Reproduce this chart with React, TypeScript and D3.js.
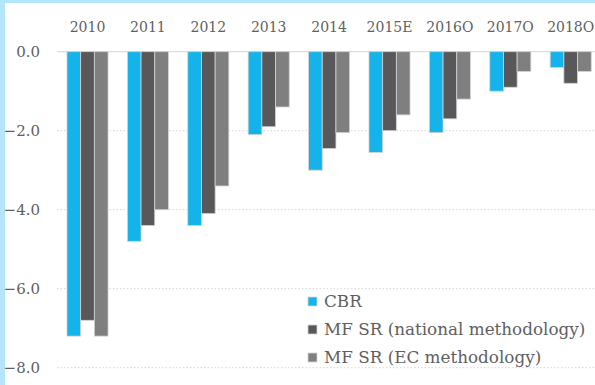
import React from "react";
import * as d3 from "d3";

// Budget balance (% of GDP) by year and source
const years = ["2010", "2011", "2012", "2013", "2014", "2015E", "2016O", "2017O", "2018O"];
const seriesNames = ["CBR", "MF SR (national methodology)", "MF SR (EC methodology)"];
const cbr = [-7.2, -4.8, -4.4, -2.1, -3.0, -2.55, -2.05, -1.0, -0.4];
const mfNational = [-6.8, -4.4, -4.1, -1.9, -2.45, -2.0, -1.7, -0.9, -0.8];
const mfEc = [-7.2, -4.0, -3.4, -1.4, -2.05, -1.6, -1.2, -0.5, -0.5];
const yTicks = [0, -2, -4, -6, -8];

const colors = ["#14b4ea", "#58585a", "#7f7f7f"];
const W = 595;
const H = 385;
const FONT = "'DejaVu Serif', 'Liberation Serif', serif";
const TEXT = "#5f5f5f";

export default function App() {
  const values = [cbr, mfNational, mfEc];
  const x = d3
    .scaleBand<string>()
    .domain(years)
    .range([57.3, 57.3 + 9 * 60.4])
    .paddingInner(0.32)
    .paddingOuter(0.16);
  const xs = d3
    .scaleBand<number>()
    .domain([0, 1, 2])
    .range([0, x.bandwidth()]);
  const y = d3.scaleLinear().domain([-8, 0]).range([367.7, 51.7]);
  const fmt = d3.format(".1f");

  return (
    <svg
      width={W}
      height={H}
      style={{ position: "absolute", left: 0, top: 0, background: "#fff" }}
      fontFamily={FONT}
    >
      {/* frame */}
      <rect x={0} y={0} width={W} height={3} fill="#b2e6f8" />
      <rect x={0} y={0} width={5} height={H} fill="#b2e6f8" />

      {/* gridlines */}
      {yTicks.map((t) => (
        <line
          key={t}
          x1={57}
          x2={W}
          y1={y(t)}
          y2={y(t)}
          stroke="#d4d4d4"
          strokeWidth={1}
          strokeDasharray={t === 0 ? undefined : "1.5 2"}
        />
      ))}

      {/* y tick labels */}
      {yTicks.map((t) => (
        <text
          key={t}
          x={40}
          y={y(t)}
          dy="0.35em"
          textAnchor="end"
          fontSize={15}
          fill={TEXT}
        >
          {fmt(t)}
        </text>
      ))}

      {/* bars */}
      {years.map((yr, i) => (
        <g key={yr} transform={`translate(${x(yr)},0)`}>
          {values.map((s, j) => (
            <rect
              key={j}
              x={xs(j)}
              y={y(0)}
              width={xs.bandwidth()}
              height={y(s[i]) - y(0)}
              fill={colors[j]}
              stroke="#d4d4d4"
              strokeWidth={0.8}
            />
          ))}
        </g>
      ))}

      {/* category labels */}
      {years.map((yr) => (
        <text
          key={yr}
          x={(x(yr) as number) + x.bandwidth() / 2}
          y={32}
          textAnchor="middle"
          fontSize={14}
          fill={TEXT}
        >
          {yr}
        </text>
      ))}

      {/* legend */}
      {seriesNames.map((name, j) => (
        <g key={name} transform={`translate(308,${307 + j * 28})`}>
          <rect x={0} y={-10} width={9} height={9} fill={colors[j]} stroke="#d4d4d4" strokeWidth={0.8} />
          <text x={16} y={0} fontSize={16.8} fill={TEXT}>
            {name}
          </text>
        </g>
      ))}
    </svg>
  );
}
